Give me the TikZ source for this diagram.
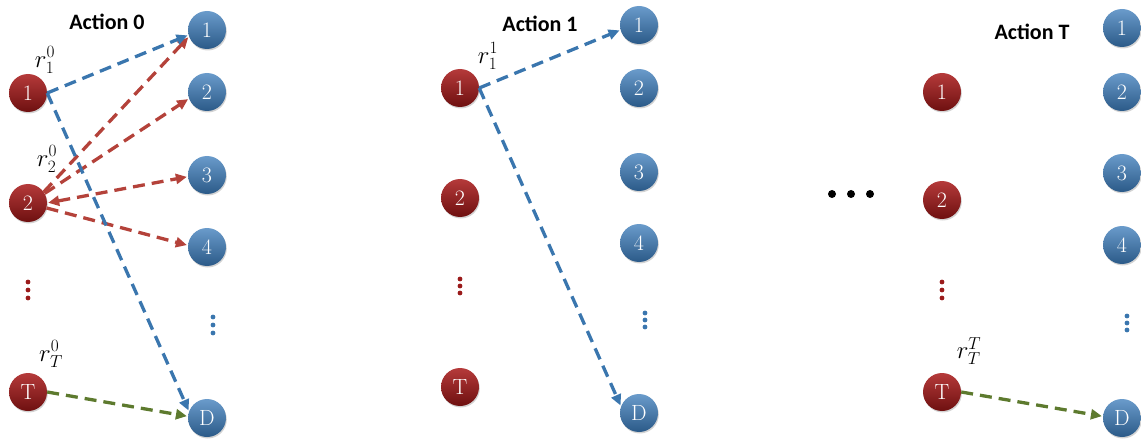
\documentclass[tikz,border=0pt]{standalone}
\usepackage{fontspec}
\newfontfamily\actfont{Carlito}
\usetikzlibrary{arrows.meta,shadows}
\definecolor{rtop}{HTML}{B53A3A}
\definecolor{rmid}{HTML}{9A1A1A}
\definecolor{rbot}{HTML}{6E1010}
\definecolor{btop}{HTML}{6A9BCB}
\definecolor{bmid}{HTML}{4079AE}
\definecolor{bbot}{HTML}{2B5A88}
\definecolor{lblue}{HTML}{3A76AE}
\definecolor{lred}{HTML}{B4423A}
\definecolor{lgreen}{HTML}{5D7A2E}
\definecolor{dred}{HTML}{9A1A1A}
\begin{document}
\begin{tikzpicture}[x=1pt,y=-1pt,
  ball/.style={circle,minimum size=38pt,inner sep=0pt,draw=none,text=white,
    font=\fontsize{22}{22}\selectfont,
    drop shadow={opacity=0.35,shadow xshift=0.8pt,shadow yshift=-1.5pt}},
  rn/.style={ball,top color=rtop,middle color=rmid,bottom color=rbot},
  bn/.style={ball,top color=btop,middle color=bmid,bottom color=bbot},
  con/.style={line width=3.3pt,dash pattern=on 12pt off 7pt,-{Triangle[length=11pt,width=10pt]},shorten >=1pt},
  bl/.style={con,draw=lblue},
  rd/.style={con,draw=lred},
  gr/.style={con,draw=lgreen},
  act/.style={font=\actfont\bfseries\fontsize{22}{22}\selectfont},
  rl/.style={font=\fontsize{27}{27}\selectfont},
  rdot/.style={fill=dred,draw=none},
  bdot/.style={fill=lblue,draw=none}]
\useasboundingbox (0,0) rectangle (1141,441);
% ---------- group 0
\node[act] (a0) at (107,22) {Action 0};
\node[rn] (r01) at (28,93) {1};
\node[rn] (r02) at (28,203) {2};
\node[rn] (r0T) at (28,392) {T};
\node[bn] (b01) at (207,30) {1};
\node[bn] (b02) at (207,92) {2};
\node[bn] (b03) at (207,175) {3};
\node[bn] (b04) at (207,247) {4};
\node[bn] (b0D) at (207,418) {D};
\foreach \y in {282,290,298} \fill[rdot] (28,\y) circle (2.4pt);
\foreach \y in {317,325,333} \fill[bdot] (213,\y) circle (2.4pt);
\node[rl] (l01) at (45,60) {$r_1^0$};
\node[rl] (l02) at (47,159) {$r_2^0$};
\node[rl] (l0T) at (51,354) {$r_T^0$};
\draw[rd] (r02.35) -- (b01.200);
\draw[rd] (r02.30) -- (b02.200);
\draw[rd,{Triangle[length=11pt,width=10pt]}-{Triangle[length=11pt,width=10pt]},shorten <=1pt] (r02.east) -- (b03.185);
\draw[rd] (r02.-15) -- (b04.175);
\draw[bl] (r01.east) -- (b01.195);
\draw[bl] (r01.east) -- (b0D.160);
\draw[gr] (r0T.east) -- (b0D.175);
% ---------- group 1
\node[act] (a1) at (540,24) {Action 1};
\node[rn] (r11) at (460,88) {1};
\node[rn] (r12) at (460,198) {2};
\node[rn] (r1T) at (460,387) {T};
\node[bn] (b11) at (639,25) {1};
\node[bn] (b12) at (639,88) {2};
\node[bn] (b13) at (639,172) {3};
\node[bn] (b14) at (639,243) {4};
\node[bn] (b1D) at (639,413) {D};
\foreach \y in {279,286,293} \fill[rdot] (460,\y) circle (2.4pt);
\foreach \y in {313,320,327} \fill[bdot] (645,\y) circle (2.4pt);
\node[rl] (l11) at (488,56) {$r_1^1$};
\draw[bl] (r11.east) -- (b11.195);
\draw[bl] (r11.east) -- (b1D.160);
% ---------- ellipsis
\foreach \x in {832,851,870} \fill (\x,194) circle (4pt);
% ---------- group T
\node[act] (aT) at (1032,32) {Action T};
\node[rn] (rT1) at (942,92) {1};
\node[rn] (rT2) at (942,200) {2};
\node[rn] (rTT) at (942,392) {T};
\node[bn] (bT1) at (1122,28) {1};
\node[bn] (bT2) at (1122,92) {2};
\node[bn] (bT3) at (1122,173) {3};
\node[bn] (bT4) at (1122,245) {4};
\node[bn] (bTD) at (1122,418) {D};
\foreach \y in {282,290,298} \fill[rdot] (942,\y) circle (2.4pt);
\foreach \y in {316,323,330} \fill[bdot] (1127,\y) circle (2.4pt);
\node[rl] (lTT) at (969,351) {$r_T^T$};
\draw[gr] (rTT.east) -- (bTD.175);
\end{tikzpicture}
\end{document}
